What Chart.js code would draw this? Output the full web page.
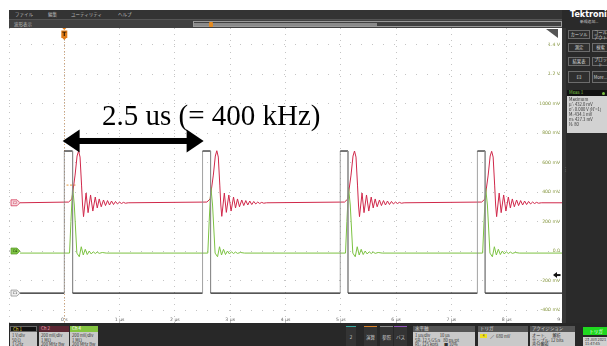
<!DOCTYPE html>
<html lang="ja">
<head>
<meta charset="UTF-8">
<title>Ch1 / Ch2 / Ch4 波形</title>
<script src="https://cdn.jsdelivr.net/npm/chart.js@4"></script>
<style>
  body { margin:0; width:607px; height:346px; overflow:hidden; background:#fff; position:relative;
         font-family:"Noto Sans CJK JP","DejaVu Sans",sans-serif; }
  .b { position:absolute; box-sizing:border-box; overflow:hidden; }
  .t { position:absolute; white-space:nowrap; font-size:4.5px; line-height:5px; }
  #scope { position:absolute; left:9px; top:28px; }
  .btn { position:absolute; box-sizing:border-box; border:1px solid #6c6c6c; background:#2f2f2f; color:#d8d8d8;
         font-size:4.3px; line-height:4.6px; display:flex; align-items:center; justify-content:center; text-align:center; }
  .head { position:absolute; box-sizing:border-box; font-size:4.5px; line-height:5.5px; padding-left:2px; }
  .body { position:absolute; box-sizing:border-box; background:#c9c9c9; color:#333; font-size:4.2px; line-height:4.6px; padding:1px 2px; white-space:nowrap; overflow:hidden; }
  .tab { position:absolute; box-sizing:border-box; background:#343434; color:#cfcfcf; font-size:4.5px; top:326px; height:20px;
         display:flex; align-items:center; justify-content:center; }
  #note { position:absolute; left:102px; top:101px; font-family:"Liberation Serif","Times New Roman",serif;
          font-size:29px; line-height:29px; color:#000; white-space:nowrap; }
</style>
</head>
<body>
<!-- menu bars -->
<div class="b" style="left:9px;top:10px;width:553px;height:9px;background:#333"></div>
<div class="t" style="left:15px;top:12px;color:#bbb">ファイル</div>
<div class="t" style="left:48px;top:12px;color:#bbb">編集</div>
<div class="t" style="left:71px;top:12px;color:#bbb">ユーティリティ</div>
<div class="t" style="left:118px;top:12px;color:#bbb">ヘルプ</div>
<div class="b" style="left:9px;top:19px;width:553px;height:9px;background:#414141;border-top:1px solid #555"></div>
<div class="t" style="left:14px;top:21.5px;color:#bbb">波形表示</div>
<div class="b" style="left:193px;top:21px;width:369px;height:6px;border:1px solid #9a9a9a"></div>
<div class="b" style="left:194px;top:22.5px;width:183px;height:3px;background:#8a8a8a"></div>
<div class="b" style="left:209px;top:21.5px;width:4px;height:5px;background:#e58a1f;border-radius:1px"></div>

<canvas id="scope" width="553" height="295"></canvas>

<div id="note">2.5 us (= 400 kHz)</div>

<!-- right side panel -->
<div class="b" style="left:562px;top:10px;width:45px;height:314px;background:#2a2a2a"></div>
<div class="b" style="left:562px;top:28px;width:4px;height:296px;background:#363636"></div>
<div class="t" style="left:563px;top:166px;color:#999;font-size:5px">⋮</div>
<div class="t" style="left:570px;top:10px;color:#fff;font-family:'DejaVu Sans';font-weight:bold;font-size:8px;line-height:9px">Tektronix</div>
<div class="t" style="left:580px;top:19px;color:#ccc;font-size:3.8px">新規追加...</div>
<div class="btn" style="left:568px;top:30px;width:22px;height:9px">カーソル</div>
<div class="btn" style="left:592px;top:30px;width:17px;height:9px">コール<br>アウト</div>
<div class="btn" style="left:568px;top:43px;width:22px;height:9px">測定</div>
<div class="btn" style="left:592px;top:43px;width:17px;height:9px">検索</div>
<div class="btn" style="left:568px;top:57px;width:22px;height:9px">結果表</div>
<div class="btn" style="left:592px;top:57px;width:17px;height:9px">プロット</div>
<div class="btn" style="left:568px;top:71px;width:22px;height:12px;font-size:6px">⊡</div>
<div class="btn" style="left:592px;top:71px;width:17px;height:12px">More...</div>
<div class="head" style="left:567px;top:90px;width:42px;height:5.5px;background:#111;color:#7cc242">Meas 1</div>
<div class="b" style="left:602px;top:91.5px;width:3px;height:3px;border-radius:50%;background:#7cc242"></div>
<div class="body" style="left:567px;top:95.5px;width:42px;height:37px;background:#d2d2d2;line-height:5px">Maximum<br>μ': 432.0 mV<br>σ': 0.000 V (N'=1)<br>M: 434.1 mV<br>m: 427.3 mV<br>N: 80</div>

<!-- bottom panel -->
<div class="b" style="left:9px;top:323px;width:598px;height:23px;background:#282828"></div>
<div class="head" style="left:10px;top:326px;width:27px;height:6px;background:#111;color:#e8d23c;border:0.5px solid #666">Ch 1</div>
<div class="body" style="left:10px;top:332px;width:27px;height:14px">1 V/div<br>50 Ω<br>1 GHz</div>
<div class="head" style="left:39px;top:326px;width:30px;height:6px;background:#5b2733;color:#e8a0b2">Ch 2</div>
<div class="body" style="left:39px;top:332px;width:30px;height:14px">200 mV/div<br>1 MΩ<br>200 MHz Bw</div>
<div class="head" style="left:70px;top:326px;width:28px;height:6px;background:#84c441;color:#fff">Ch 4</div>
<div class="body" style="left:70px;top:332px;width:28px;height:14px">200 mV/div<br>1 MΩ<br>200 MHz Bw</div>

<div class="tab" style="left:346px;width:10px;border-top:1px solid #3aa7a0">2</div>
<div class="tab" style="left:364px;width:13px;border-top:1px solid #d9822b">演算</div>
<div class="tab" style="left:380px;width:13px;border-top:1px solid #8c8c8c">参照</div>
<div class="tab" style="left:394px;width:13px;border-top:1px solid #9156b8">バス</div>

<div class="head" style="left:413px;top:326px;width:62px;height:6px;background:#555;color:#ddd">水平軸</div>
<div class="body" style="left:413px;top:332px;width:62px;height:14px">1 µs/div&nbsp;&nbsp;&nbsp;&nbsp;&nbsp;&nbsp;&nbsp;&nbsp;&nbsp;&nbsp;10 µs<br>SR: 12.5 GS/s&nbsp;&nbsp;&nbsp;80 ps/pt<br>RL: 125 kpts&nbsp;&nbsp;&nbsp;&nbsp;&nbsp;&nbsp;■ 10%</div>
<div class="head" style="left:478px;top:326px;width:50px;height:6px;background:#555;color:#ddd">トリガ</div>
<div class="body" style="left:478px;top:332px;width:50px;height:14px"></div>
<div class="b" style="left:480px;top:334px;width:7px;height:4px;background:#f0e020;font-size:3px;line-height:4px;color:#333;text-align:center">4</div>
<div class="t" style="left:490px;top:333.5px;color:#333;font-size:4.2px">／&nbsp;&nbsp;680 mV</div>
<div class="head" style="left:530px;top:326px;width:45px;height:6px;background:#555;color:#ddd">アクイジション</div>
<div class="body" style="left:530px;top:332px;width:45px;height:14px">オート、&nbsp;&nbsp;&nbsp;&nbsp;解析<br>サンプル: 12 bits<br>高分解能</div>
<div class="b" style="left:583px;top:327px;width:26px;height:8px;background:#1fd81f;color:#fff;font-size:4.5px;line-height:8px;text-align:center">トリガ</div>
<div class="body" style="left:583px;top:337px;width:26px;height:9px;background:#d0d0d0;font-size:3.8px;line-height:4.2px">23 Jun 2021<br>11:47:45</div>

<script>
// time axis (µs) and level axis (mV, Ch4 scale of the screen)
const timeTicks  = [-1, 0, 1, 2, 3, 4, 5, 6, 7, 8, 9];
const timeLabels = ['', '0 s', '1 µs', '2 µs', '3 µs', '4 µs', '5 µs', '6 µs', '7 µs', '8 µs', '9 µs'];
const levelTicks  = [-400, -200, 0, 200, 400, 600, 800, 1000, 1200, 1400];
const levelLabels = ['-400 mV', '-200 mV', '0.0', '200 mV', '400 mV', '600 mV', '800 mV', '1000 mV', '1.2 V', '1.4 V'];

// Ch1 (black) gate pulse
const ch1Time  = [-0.8, 0, 0, 0.15, 0.15, 2.50, 2.50, 2.645, 2.645, 4.99, 4.99, 5.13, 5.13, 7.47, 7.47, 7.61, 7.61, 9.0];
const ch1Level = [-285, -285, 678, 678, -285, -285, 678, 678, -285, -285, 678, 678, -285, -285, 678, 678, -285, -285];

// Ch2 (red) with ringing
const ch2Time = [-0.8,
  0.078, 0.137, 0.195, 0.231, 0.258, 0.285, 0.312, 0.330, 0.348, 0.394, 0.430, 0.475, 0.516, 0.560, 0.596,
  0.632, 0.668, 0.709, 0.745, 0.782, 0.818, 0.854, 0.890, 0.926, 0.962, 0.998, 1.034, 1.070, 1.106, 1.155,
  2.578, 2.637, 2.695, 2.731, 2.758, 2.785, 2.812, 2.830, 2.848, 2.894, 2.930, 2.975, 3.016, 3.060, 3.096,
  3.132, 3.168, 3.209, 3.245, 3.282, 3.318, 3.354, 3.390, 3.426, 3.462, 3.498, 3.534, 3.570, 3.606, 3.655,
  5.068, 5.127, 5.185, 5.221, 5.248, 5.275, 5.302, 5.320, 5.338, 5.384, 5.420, 5.465, 5.506, 5.550, 5.586,
  5.622, 5.658, 5.699, 5.735, 5.772, 5.808, 5.844, 5.880, 5.916, 5.952, 5.988, 6.024, 6.060, 6.096, 6.145,
  7.548, 7.607, 7.665, 7.701, 7.728, 7.755, 7.782, 7.800, 7.818, 7.864, 7.900, 7.945, 7.986, 8.030, 8.066,
  8.102, 8.138, 8.179, 8.215, 8.252, 8.288, 8.324, 8.360, 8.396, 8.432, 8.468, 8.504, 8.540, 8.576, 8.625,
  9.0];
const ch2Level = [327,
  332, 353, 515, 644, 678, 637, 447, 312, 233, 393, 260, 380, 271, 366, 292,
  353, 300, 346, 308, 342, 312, 339, 315, 336, 319, 332, 322, 330, 324, 327,
  332, 353, 515, 644, 680, 637, 447, 312, 235, 393, 262, 380, 271, 366, 292,
  353, 300, 346, 308, 342, 312, 339, 315, 336, 319, 332, 322, 330, 324, 327,
  332, 353, 515, 644, 678, 637, 447, 312, 233, 393, 260, 380, 271, 366, 292,
  353, 300, 346, 308, 342, 312, 339, 315, 336, 319, 332, 322, 330, 324, 327,
  332, 353, 515, 644, 676, 637, 447, 312, 233, 393, 260, 380, 271, 366, 292,
  353, 300, 346, 308, 342, 312, 339, 315, 336, 319, 332, 322, 330, 324, 327,
  327];

// Ch4 (green)
const ch4Time = [-0.8,
  0.095, 0.120, 0.150, 0.181, 0.227, 0.271, 0.307, 0.343, 0.379, 0.415, 0.451, 0.487, 0.523, 0.560, 0.596, 0.632, 0.686, 0.758,
  2.595, 2.620, 2.650, 2.681, 2.727, 2.771, 2.807, 2.843, 2.879, 2.915, 2.951, 2.987, 3.023, 3.060, 3.096, 3.132, 3.186, 3.258,
  5.085, 5.110, 5.140, 5.171, 5.217, 5.261, 5.297, 5.333, 5.369, 5.405, 5.441, 5.477, 5.513, 5.550, 5.586, 5.622, 5.676, 5.748,
  7.565, 7.590, 7.620, 7.651, 7.697, 7.741, 7.777, 7.813, 7.849, 7.885, 7.921, 7.957, 7.993, 8.030, 8.066, 8.102, 8.156, 8.228,
  9.0];
const ch4Level = [-14,
  -14, 200, 434, 312, -14, -39, 29, -27, 12, -24, 0, -20, -5, -17, -7, -16, -10, -14,
  -14, 200, 432, 312, -14, -39, 29, -27, 12, -24, 0, -20, -5, -17, -7, -16, -10, -14,
  -14, 200, 430, 312, -14, -39, 29, -27, 12, -24, 0, -20, -5, -17, -7, -16, -10, -14,
  -14, 200, 427, 312, -14, -39, 29, -27, 12, -24, 0, -20, -5, -17, -7, -16, -10, -14,
  -14];

// period annotation
const arrowFrom = -0.03, arrowTo = 2.52, arrowLevel = 746;

function pts(t, v) { return t.map((x, i) => ({ x: x, y: v[i] })); }

function tag(ctx, y, label, fill, stroke, color) {
  ctx.beginPath();
  ctx.moveTo(2, y - 3); ctx.lineTo(8, y - 3); ctx.lineTo(11, y); ctx.lineTo(8, y + 3); ctx.lineTo(2, y + 3);
  ctx.closePath();
  ctx.fillStyle = fill; ctx.fill();
  ctx.strokeStyle = stroke; ctx.lineWidth = 0.7; ctx.stroke();
  ctx.fillStyle = color; ctx.font = '3.5px DejaVu Sans'; ctx.textAlign = 'center'; ctx.textBaseline = 'middle';
  ctx.fillText(label, 6, y + 0.3);
}

const scopeOverlay = {
  id: 'scopeOverlay',
  beforeDatasetsDraw(chart) {
    const { ctx, chartArea: a, scales: { x, y } } = chart;
    ctx.save();
    // trigger position line
    const tx = Math.round(x.getPixelForValue(0)) + 0.5;
    ctx.strokeStyle = '#cfa57c'; ctx.lineWidth = 1; ctx.setLineDash([1, 2]);
    ctx.beginPath(); ctx.moveTo(tx, a.top + 11); ctx.lineTo(tx, a.bottom); ctx.stroke();
    // trigger level mark
    ctx.strokeStyle = '#e89a3c'; ctx.setLineDash([2, 1.5]);
    const ly = y.getPixelForValue(447);
    ctx.beginPath(); ctx.moveTo(x.getPixelForValue(0.04), ly); ctx.lineTo(x.getPixelForValue(0.22), ly); ctx.stroke();
    ctx.restore();
  },
  afterDatasetsDraw(chart) {
    const { ctx, chartArea: a, scales: { x, y } } = chart;
    ctx.save();
    // tick labels inside the graticule
    ctx.font = '4.6px DejaVu Sans';
    ctx.fillStyle = '#666'; ctx.textAlign = 'center'; ctx.textBaseline = 'middle';
    timeTicks.forEach((v, i) => { if (timeLabels[i]) ctx.fillText(timeLabels[i], x.getPixelForValue(v), a.bottom - 3.5); });
    ctx.fillStyle = '#8a9a44'; ctx.textAlign = 'right';
    levelTicks.forEach((v, i) => ctx.fillText(levelLabels[i], a.right - 2, y.getPixelForValue(v)));

    // channel markers
    tag(ctx, y.getPixelForValue(327), 'C2', '#f6d6dd', '#d0284a', '#c0203f');
    tag(ctx, y.getPixelForValue(0), 'C4', '#7cc242', '#5d9a2c', '#1d3a08');
    tag(ctx, y.getPixelForValue(-285), 'C1', '#eeeeee', '#888', '#444');

    // trigger T marker
    const tx = x.getPixelForValue(0);
    ctx.fillStyle = '#e07b17';
    ctx.beginPath(); ctx.moveTo(tx - 2, 0); ctx.lineTo(tx + 2, 0); ctx.lineTo(tx, 2); ctx.fill();
    ctx.fillRect(tx - 3, 2.5, 6, 7.5);
    ctx.beginPath(); ctx.moveTo(tx - 2, 10); ctx.lineTo(tx + 2, 10); ctx.lineTo(tx, 12); ctx.fill();
    ctx.fillStyle = '#2a1600'; ctx.font = 'bold 6px DejaVu Sans'; ctx.textAlign = 'center';
    ctx.fillText('T', tx, 6.5);

    // right side offset arrow
    const oy = y.getPixelForValue(-163);
    ctx.fillStyle = '#111';
    ctx.beginPath(); ctx.moveTo(a.right - 9, oy); ctx.lineTo(a.right - 5, oy - 3); ctx.lineTo(a.right - 5, oy + 3); ctx.fill();
    ctx.fillRect(a.right - 5.5, oy - 1, 4, 2);

    // corner tab
    ctx.fillStyle = '#555';
    ctx.beginPath(); ctx.moveTo(a.right - 16, a.top + 1); ctx.lineTo(a.right - 4, a.top + 1); ctx.lineTo(a.right - 4, a.top + 10); ctx.fill();

    // double arrow for the period
    const x1 = x.getPixelForValue(arrowFrom), x2 = x.getPixelForValue(arrowTo), ay = y.getPixelForValue(arrowLevel);
    ctx.fillStyle = '#000';
    ctx.fillRect(x1 + 14, ay - 3, x2 - x1 - 28, 6);
    ctx.beginPath(); ctx.moveTo(x1, ay); ctx.lineTo(x1 + 17, ay - 11.5); ctx.lineTo(x1 + 17, ay + 11.5); ctx.closePath(); ctx.fill();
    ctx.beginPath(); ctx.moveTo(x2, ay); ctx.lineTo(x2 - 17, ay - 11.5); ctx.lineTo(x2 - 17, ay + 11.5); ctx.closePath(); ctx.fill();
    ctx.restore();
  }
};

// vertical edges of the Ch1 pulse render as thin grey lines on the scope
const edgeGrey = c => c.p0.parsed.x === c.p1.parsed.x ? '#8a8a8a' : undefined;

new Chart(document.getElementById('scope'), {
  type: 'scatter',
  data: {
    datasets: [
      { label: 'Ch 1', data: pts(ch1Time, ch1Level), borderColor: '#1e1e1e', borderWidth: 1.2,
        segment: { borderColor: edgeGrey, borderWidth: c => c.p0.parsed.x === c.p1.parsed.x ? 0.8 : undefined } },
      { label: 'Ch 4', data: pts(ch4Time, ch4Level), borderColor: '#7cc242', borderWidth: 1 },
      { label: 'Ch 2', data: pts(ch2Time, ch2Level), borderColor: '#d0284a', borderWidth: 1 }
    ]
  },
  options: {
    responsive: false,
    animation: false,
    events: [],
    layout: { padding: 0 },
    showLine: true,
    elements: { point: { radius: 0 }, line: { tension: 0 } },
    plugins: { legend: { display: false }, tooltip: { enabled: false } },
    scales: {
      x: {
        type: 'linear', min: -1, max: 9,
        afterBuildTicks: s => { s.ticks = timeTicks.map(v => ({ value: v })); },
        ticks: { display: false },
        grid: { color: '#c4c4c4', drawTicks: false },
        border: { display: false, dash: [1, 5] }
      },
      y: {
        type: 'linear', min: -488, max: 1512,
        afterBuildTicks: s => { s.ticks = levelTicks.map(v => ({ value: v })); },
        ticks: { display: false },
        grid: { color: '#c4c4c4', drawTicks: false },
        border: { display: false, dash: [1, 10] }
      }
    }
  },
  plugins: [scopeOverlay]
});
</script>
</body>
</html>
